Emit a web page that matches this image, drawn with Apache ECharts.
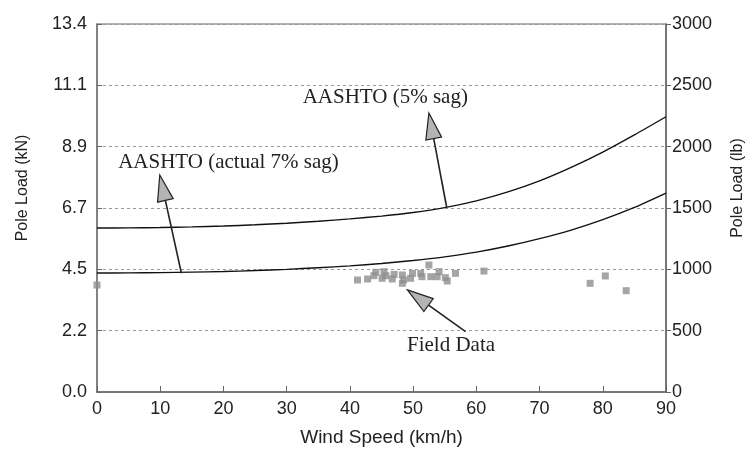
<!DOCTYPE html>
<html>
<head>
<meta charset="utf-8">
<script src="https://cdn.jsdelivr.net/npm/echarts@6/dist/echarts.min.js"></script>
<style>
  html, body { margin: 0; padding: 0; background: #fff; }
  #chart { width: 754px; height: 455px; }
</style>
</head>
<body>
<div id="chart"></div>
<script>
// Wind speed (km/h) sampled along the AASHTO design curves
const windSpeed = [0, 5, 10, 15, 20, 25, 30, 35, 40, 45, 50, 55, 60, 65, 70, 75, 80, 85, 90];
// AASHTO pole load with 5% sag (lb)
const aashto5 = [1337, 1338, 1341, 1346, 1353, 1363, 1376, 1392, 1411, 1434, 1463, 1503,
  1558, 1631, 1721, 1831, 1956, 2096, 2244];
// AASHTO pole load with the actual 7% sag (lb)
const aashto7 = [970, 971, 973, 977, 982, 990, 1000, 1013, 1028, 1048, 1072, 1102,
  1140, 1190, 1250, 1320, 1405, 1505, 1622];

// Measured field data: wind speed (km/h) and pole load (lb)
const fieldWind = [0, 41.2, 42.8, 43.8, 44.1, 45.1, 45.4, 45.7, 46.7, 47.0, 48.3, 48.5, 48.3,
  49.6, 49.9, 51.2, 51.4, 52.5, 52.8, 53.8, 54.1, 55.1, 55.4, 56.7, 61.2, 78.0, 80.4, 83.7];
const fieldLoad = [872, 913, 921, 948, 976, 927, 981, 948, 921, 959, 954, 913, 886,
  927, 967, 967, 940, 1035, 940, 940, 981, 932, 905, 967, 986, 886, 946, 826];

// Tick labels for the metric (kN) axis, one per 500 lb gridline
const kNLabels = ['0.0', '2.2', '4.5', '6.7', '8.9', '11.1', '13.4'];

// Callouts: label text, label anchor, arrow tail and arrow tip (km/h, lb)
const calloutText = ['AASHTO (5% sag)', 'AASHTO (actual 7% sag)', 'Field Data'];
const calloutLabelAt = [[45.6, 2405], [20.8, 1867], [56.0, 383]];
const calloutTail = [[55.3, 1508], [13.35, 968], [58.3, 492]];
const calloutTip = [[52.5, 2274], [9.93, 1769], [49.1, 832]];

const chart = echarts.init(document.getElementById('chart'), null, { renderer: 'canvas' });

const tickFont = { fontFamily: 'Liberation Sans', fontSize: 18, color: '#222' };

chart.setOption({
  backgroundColor: '#fff',
  animation: false,
  grid: {
    left: 97, right: 86, top: 24, bottom: 63,
    show: true, borderColor: '#666', borderWidth: 1.2, backgroundColor: 'transparent'
  },
  xAxis: {
    type: 'value', min: 0, max: 90, interval: 10,
    name: 'Wind Speed (km/h)', nameLocation: 'middle', nameGap: 36,
    nameTextStyle: { fontFamily: 'Liberation Sans', fontSize: 19, color: '#222' },
    axisLine: { lineStyle: { color: '#666', width: 1.5 } },
    axisTick: { inside: true, length: 6, lineStyle: { color: '#666' } },
    axisLabel: Object.assign({ margin: 8 }, tickFont),
    splitLine: { show: false }
  },
  yAxis: [
    {
      type: 'value', position: 'left', min: 0, max: 3000, interval: 500,
      name: 'Pole Load (kN)', nameLocation: 'middle', nameGap: 66, nameRotate: 90,
      nameTextStyle: { fontFamily: 'Liberation Sans', fontSize: 16, color: '#222', padding: [0, 0, 0, 40] },
      axisLine: { show: true, lineStyle: { color: '#777', width: 1.5 } },
      axisTick: { inside: true, length: 5, lineStyle: { color: '#666' } },
      axisLabel: Object.assign({
        margin: 10,
        formatter: (v) => kNLabels[Math.round(v / 500)]
      }, tickFont),
      splitLine: { show: true, lineStyle: { color: '#9a9a9a', type: [3, 3], width: 1 } }
    },
    {
      type: 'value', position: 'right', min: 0, max: 3000, interval: 500,
      name: 'Pole Load (lb)', nameLocation: 'middle', nameGap: 64, nameRotate: 90,
      nameTextStyle: { fontFamily: 'Liberation Sans', fontSize: 16, color: '#222', padding: [0, 0, 0, 40] },
      axisLine: { show: true, lineStyle: { color: '#666', width: 1.5 } },
      axisTick: { inside: false, length: 5, lineStyle: { color: '#666' } },
      axisLabel: Object.assign({ margin: 6, formatter: (v) => String(v) }, tickFont),
      splitLine: { show: false }
    }
  ],
  series: [
    {
      name: 'AASHTO (5% sag)', type: 'line', yAxisIndex: 0,
      data: windSpeed.map((v, i) => [v, aashto5[i]]),
      smooth: 0.25, showSymbol: false,
      lineStyle: { color: '#111', width: 1.4 }
    },
    {
      name: 'AASHTO (actual 7% sag)', type: 'line', yAxisIndex: 0,
      data: windSpeed.map((v, i) => [v, aashto7[i]]),
      smooth: 0.25, showSymbol: false,
      lineStyle: { color: '#111', width: 1.4 }
    },
    {
      name: 'Field Data', type: 'scatter', yAxisIndex: 0,
      data: fieldWind.map((v, i) => [v, fieldLoad[i]]),
      symbol: 'rect', symbolSize: 7,
      itemStyle: { color: '#8e8e8e' },
      z: 3
    }
  ]
});

// Callout labels and arrows placed in data coordinates
const toPx = (p) => chart.convertToPixel({ xAxisIndex: 0, yAxisIndex: 0 }, p);
const graphics = [];
calloutText.forEach((txt, i) => {
  const lp = toPx(calloutLabelAt[i]);
  graphics.push({
    type: 'text', x: lp[0], y: lp[1], z: 10,
    style: {
      text: txt, fill: '#222', font: '21px "Liberation Serif"',
      textAlign: 'center', textVerticalAlign: 'middle'
    }
  });
  const tail = toPx(calloutTail[i]);
  const tip = toPx(calloutTip[i]);
  const dx = tip[0] - tail[0], dy = tip[1] - tail[1];
  const len = Math.hypot(dx, dy);
  const ux = dx / len, uy = dy / len;
  const headLen = 26, halfW = 8;
  const bx = tip[0] - ux * headLen, by = tip[1] - uy * headLen;
  graphics.push({
    type: 'line', z: 10,
    shape: { x1: tail[0], y1: tail[1], x2: bx, y2: by },
    style: { stroke: '#222', lineWidth: 1.6 }
  });
  graphics.push({
    type: 'polygon', z: 11,
    shape: { points: [
      [tip[0], tip[1]],
      [bx - uy * halfW, by + ux * halfW],
      [bx + uy * halfW, by - ux * halfW]
    ] },
    style: { fill: '#b4b4b4', stroke: '#222', lineWidth: 1.2 }
  });
});
chart.setOption({ graphic: graphics });
</script>
</body>
</html>
